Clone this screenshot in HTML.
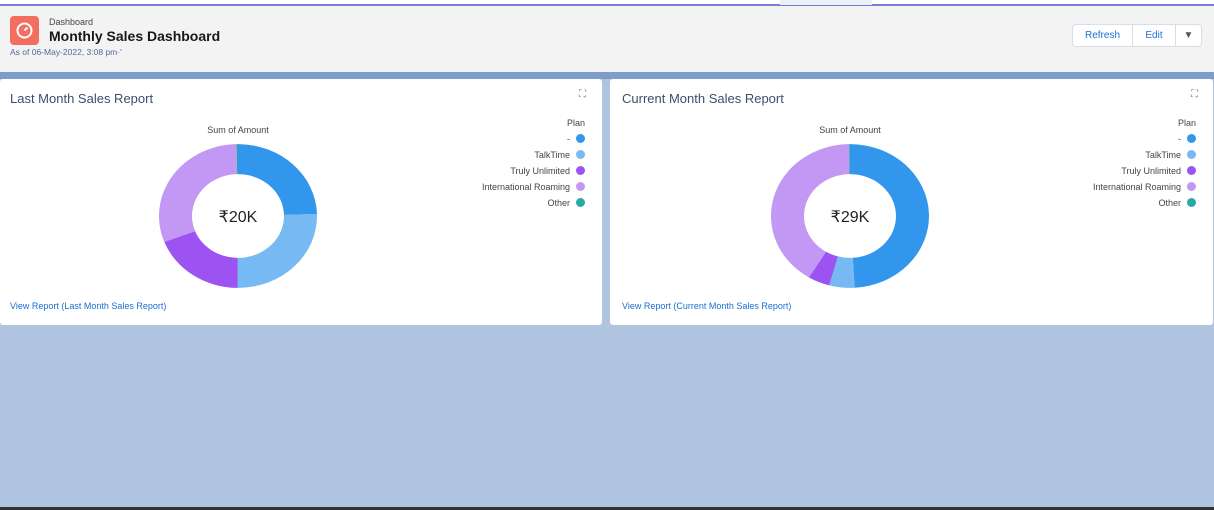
<!DOCTYPE html>
<html><head><meta charset="utf-8"><style>
*{box-sizing:border-box;margin:0;padding:0}
body{width:1214px;height:510px;overflow:hidden;background:#b0c4df;font-family:"Liberation Sans",sans-serif;position:relative}
.topbar{position:absolute;left:0;top:0;width:1214px;height:6px;background:#fff;border-bottom:2px solid #7b7bd6}
.tabhl{position:absolute;left:780px;top:0;width:92px;height:5px;background:#eef0f8}
.header{position:absolute;left:0;top:6px;width:1214px;height:66px;background:#f3f3f3}
.band{position:absolute;left:0;top:72px;width:1214px;height:7px;background:#7c9dc8}
.icon{position:absolute;left:10px;top:10px;width:29px;height:29px;background:#f26f5f;border-radius:4px}
.card{position:absolute;top:79px;height:246px;background:#fff;border-radius:3px}
.ctitle{position:absolute;left:10px;top:12px;font-size:13px;color:#3e4e6e}
.expand{position:absolute;top:10px;font-size:10px;color:#777}
.sum{position:absolute;top:46px;font-size:9px;color:#444;width:120px;text-align:center}
.legend{position:absolute;top:36px;font-size:9px;color:#444;text-align:right}
.legend div{height:16px;line-height:16px}
.dot{display:inline-block;width:9px;height:9px;border-radius:50%;margin-left:6px;vertical-align:-1px}
.link{position:absolute;left:10px;top:222px;font-size:9px;color:#1b6fd1}
.btns{position:absolute;left:1072px;top:18px;height:23px;border:1px solid #d8dde6;border-radius:4px;background:#fff;display:flex;font-size:10px;color:#1b6fd1}
.btns span{display:block;line-height:21px;border-right:1px solid #d8dde6;text-align:center}
.bottom{position:absolute;left:0;top:507px;width:1214px;height:3px;background:#333}
</style></head><body>
<div class="topbar"></div>
<div class="tabhl"></div>
<div class="header">
 <div class="icon"><svg width="29" height="29"><circle cx="14.5" cy="14.5" r="7" fill="none" stroke="#fff" stroke-width="2"/><line x1="14.5" y1="14.5" x2="17.5" y2="11.5" stroke="#fff" stroke-width="2"/></svg></div>
 <div style="position:absolute;left:49px;top:11px;font-size:9px;color:#444">Dashboard</div>
 <div style="position:absolute;left:49px;top:22px;font-size:14px;font-weight:bold;color:#181818">Monthly Sales Dashboard</div>
 <div style="position:absolute;left:10px;top:41px;font-size:8.5px;color:#51699a">As of 06-May-2022, 3:08 pm·'</div>
 <div class="btns">
  <span style="width:60px">Refresh</span>
  <span style="width:43px">Edit</span>
  <span style="width:25px;border:none;color:#555">▼</span>
 </div>
</div>
<div class="band"></div>

<div class="card" style="left:0;width:602px">
 <div class="ctitle">Last Month Sales Report</div>
 <div class="expand" style="left:579px">⛶</div>
 <div class="sum" style="left:178px">Sum of Amount</div>
 <svg id="d1" style="position:absolute;left:0;top:0" width="602" height="246"></svg>
 <div class="legend" style="right:17px">
  <div>Plan</div>
  <div>-<span class="dot" style="background:#3296ed"></span></div>
  <div>TalkTime<span class="dot" style="background:#77b9f2"></span></div>
  <div>Truly Unlimited<span class="dot" style="background:#9d53f2"></span></div>
  <div>International Roaming<span class="dot" style="background:#c398f5"></span></div>
  <div>Other<span class="dot" style="background:#26aba4"></span></div>
 </div>
 <div class="link">View Report (Last Month Sales Report)</div>
</div>

<div class="card" style="left:610px;width:603px">
 <div class="ctitle" style="left:12px">Current Month Sales Report</div>
 <div class="expand" style="left:581px">⛶</div>
 <div class="sum" style="left:180px">Sum of Amount</div>
 <svg id="d2" style="position:absolute;left:0;top:0" width="603" height="246"></svg>
 <div class="legend" style="right:17px">
  <div>Plan</div>
  <div>-<span class="dot" style="background:#3296ed"></span></div>
  <div>TalkTime<span class="dot" style="background:#77b9f2"></span></div>
  <div>Truly Unlimited<span class="dot" style="background:#9d53f2"></span></div>
  <div>International Roaming<span class="dot" style="background:#c398f5"></span></div>
  <div>Other<span class="dot" style="background:#26aba4"></span></div>
 </div>
 <div class="link" style="left:12px">View Report (Current Month Sales Report)</div>
</div>
<div class="bottom"></div>
<script>
const categories=["-","TalkTime","Truly Unlimited","International Roaming","Other"];
const lastMonthValues=[4.9,5.1,3.8,6.1,0.06];
const currentMonthValues=[14.2,1.5,1.3,11.9,0.05];
const lastMonthTotal="₹20K";
const currentMonthTotal="₹29K";
const colors=["#3296ed","#77b9f2","#9d53f2","#c398f5","#26aba4"];
function donut(svgId,vals,label,cx,cy){
 const svg=document.getElementById(svgId);const ns="http://www.w3.org/2000/svg";
 const R=79,r=46,ky=0.91,tot=vals.reduce((a,b)=>a+b,0);let a0=0;
 vals.forEach((v,i)=>{
  const a1=a0+v/tot*2*Math.PI;
  const p=(rad,a)=>[cx+rad*Math.sin(a),cy-rad*ky*Math.cos(a)];
  const lg=(a1-a0)>Math.PI?1:0;
  const [x1,y1]=p(R,a0),[x2,y2]=p(R,a1),[x3,y3]=p(r,a1),[x4,y4]=p(r,a0);
  const path=document.createElementNS(ns,"path");
  path.setAttribute("d",`M${x1},${y1}A${R},${R*ky} 0 ${lg} 1 ${x2},${y2}L${x3},${y3}A${r},${r*ky} 0 ${lg} 0 ${x4},${y4}Z`);
  path.setAttribute("fill",colors[i]);
  
  
  svg.appendChild(path);a0=a1;
 });
 const t=document.createElementNS(ns,"text");
 t.setAttribute("x",cx);t.setAttribute("y",cy+6);t.setAttribute("text-anchor","middle");
 t.setAttribute("font-size","16");t.setAttribute("fill","#222");t.setAttribute("font-family","Liberation Sans, DejaVu Sans, sans-serif");
 t.textContent=label;
 
 
 svg.appendChild(t);
}
donut("d1",lastMonthValues,lastMonthTotal,238,137);
donut("d2",currentMonthValues,currentMonthTotal,240,137);
</script>
</body></html>
